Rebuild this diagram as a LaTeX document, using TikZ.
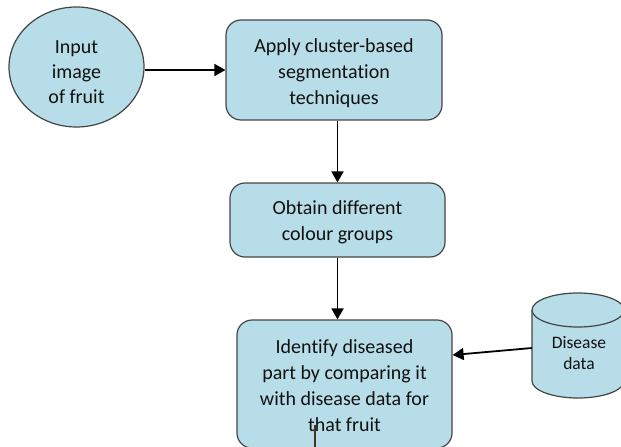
\documentclass[tikz,border=0pt]{standalone}
\usepackage{fontspec}
\setmainfont{Carlito}[Ligatures={NoCommon}]
\usetikzlibrary{arrows.meta,shapes.geometric}
\definecolor{boxfill}{HTML}{B7DDE8}
\definecolor{boxline}{HTML}{454545}
\definecolor{txt}{HTML}{111111}
\definecolor{brownline}{HTML}{4A3020}
\newcommand{\topstrut}{\rule{0pt}{21pt}}
\begin{document}
\begin{tikzpicture}[x=1pt,y=-1pt,
  shapebase/.style={draw=boxline, fill=boxfill, line width=1.2pt, align=center, text=txt, inner sep=0pt},
  proc/.style={shapebase, rounded corners=15pt, font=\fontsize{20}{26}\selectfont},
  arr/.style={draw=black, line width=1.8pt, -{Triangle[length=11pt,width=12pt]}}]
\useasboundingbox (0,0) rectangle (621,447);
\clip (0,0) rectangle (621,447);
% nodes
\node[shapebase, ellipse, minimum width=135pt, minimum height=120pt,
      font=\fontsize{20}{25}\selectfont] (ell) at (76.5,67) {\rule{0pt}{24pt}Input\\image\\of fruit};
\node[proc, minimum width=216pt, minimum height=100pt] (b1) at (334,70)
  {\topstrut Apply cluster-based\\segmentation\\techniques};
\node[proc, minimum width=215pt, minimum height=74pt] (b2) at (337.5,220)
  {\rule{0pt}{18pt}Obtain different\\colour groups};
\node[proc, minimum width=215pt, minimum height=128pt] (b3) at (344.5,384)
  {\rule{0pt}{17pt}Identify diseased\\part by comparing it\\with disease data for\\that fruit};
% cylinder (database)
\path[draw=boxline, fill=boxfill, line width=1.2pt]
  (532,310) -- (532,381) arc[start angle=180, end angle=0, x radius=46, y radius=17] -- (624,310);
\path[draw=boxline, fill=boxfill, line width=1.2pt] (578,310) ellipse[x radius=46, y radius=17];
\node[align=center, text=txt, inner sep=0pt, font=\fontsize{17.5}{21}\selectfont] (cyl) at (579,353) {Disease\\data};
\coordinate (cylL) at (532,348);
\coordinate (b3R) at (b3.east |- 0,355);
\coordinate (lineTop) at (315,425);
% connectors
\draw[arr] (ell.east |- b1.west) -- (b1.west);
\draw[arr] (b1.south -| b2.north) -- (b2.north);
\draw[arr] (b2.south) -- (b2.south |- b3.north);
\draw[arr] (cylL) -- (b3R);
\draw[brownline, line width=1.5pt] (lineTop) -- (lineTop |- 0,460);
\end{tikzpicture}
\end{document}
